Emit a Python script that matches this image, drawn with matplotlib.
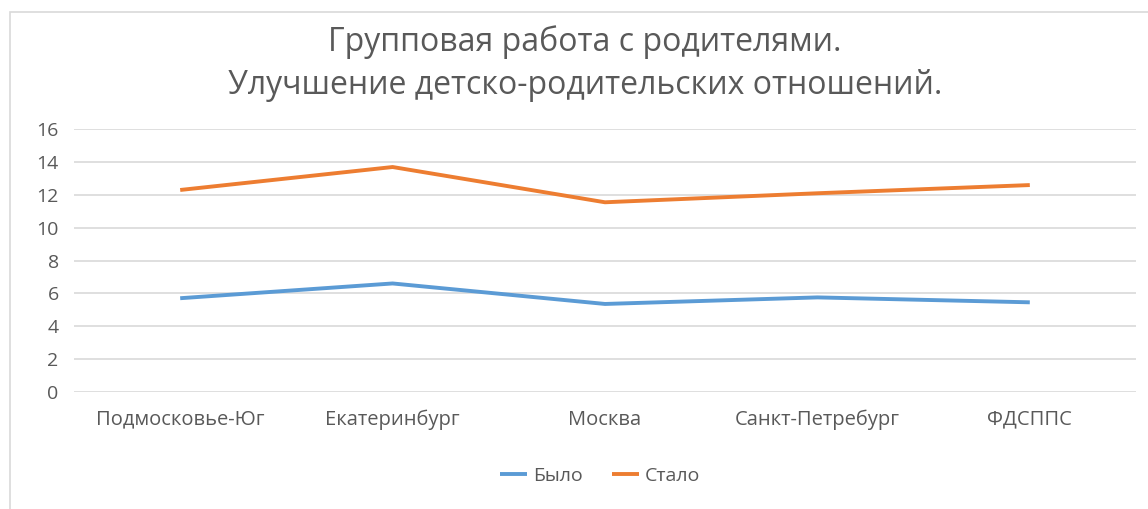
import matplotlib.pyplot as plt
import matplotlib.patches as mpatches
import numpy as np

plt.rcParams['font.family'] = ['Open Sans', 'DejaVu Sans']

# --- Data ---
categories = ['Подмосковье-Юг', 'Екатеринбург', 'Москва', 'Санкт-Петребург', 'ФДСППС']
bylo = [5.7, 6.6, 5.35, 5.75, 5.45]
stalo = [12.3, 13.7, 11.55, 12.1, 12.6]
yticks = [0, 2, 4, 6, 8, 10, 12, 14, 16]

# --- Colors ---
BLUE = '#5B9BD5'
ORANGE = '#ED7D31'
GRID = '#D9D9D9'
TEXT = '#595959'

W, H = 1148, 509
fig = plt.figure(figsize=(W / 100, H / 100), dpi=100)

# chart area border (only left and top edges visible)
fig.add_artist(mpatches.Rectangle((10 / W, -0.1), 1.2, 1 - 12 / H + 0.1,
                                  transform=fig.transFigure, fill=False,
                                  edgecolor=GRID, linewidth=1.2))

ax = fig.add_axes([74 / W, 117.3 / H, (1136 - 74) / W, (391.7 - 129.3) / H])
x = np.arange(len(categories))
ax.plot(x, bylo, color=BLUE, linewidth=2.8, label='Было', solid_capstyle='butt')
ax.plot(x, stalo, color=ORANGE, linewidth=2.8, label='Стало', solid_capstyle='butt')

ax.set_xlim(-0.5, len(categories) - 0.5)
ax.set_ylim(0, 16)
ax.set_yticks(yticks)
ax.set_xticks(x)
ax.set_xticklabels(categories)
ax.grid(axis='y', color=GRID, linewidth=1.2)
ax.set_axisbelow(True)
for s in ax.spines.values():
    s.set_visible(False)
ax.tick_params(axis='both', length=0, colors=TEXT, labelsize=14)
ax.tick_params(axis='x', labelsize=14.5)
ax.tick_params(axis='y', pad=11)
ax.tick_params(axis='x', pad=13)

fig.text(585 / W, 1 - 42 / H, 'Групповая работа с родителями.', ha='center', va='center',
         fontsize=23, color=TEXT)
fig.text(585 / W, 1 - 85 / H, 'Улучшение детско-родительских отношений.', ha='center', va='center',
         fontsize=23, color=TEXT)

fig.legend(loc='center', bbox_to_anchor=(600 / W, 1 - 476 / H), ncol=2, frameon=False,
           fontsize=14, labelcolor=TEXT, handlelength=1.4, handletextpad=0.3, columnspacing=1.5)

fig.savefig('out.png', dpi=100, facecolor='white')
